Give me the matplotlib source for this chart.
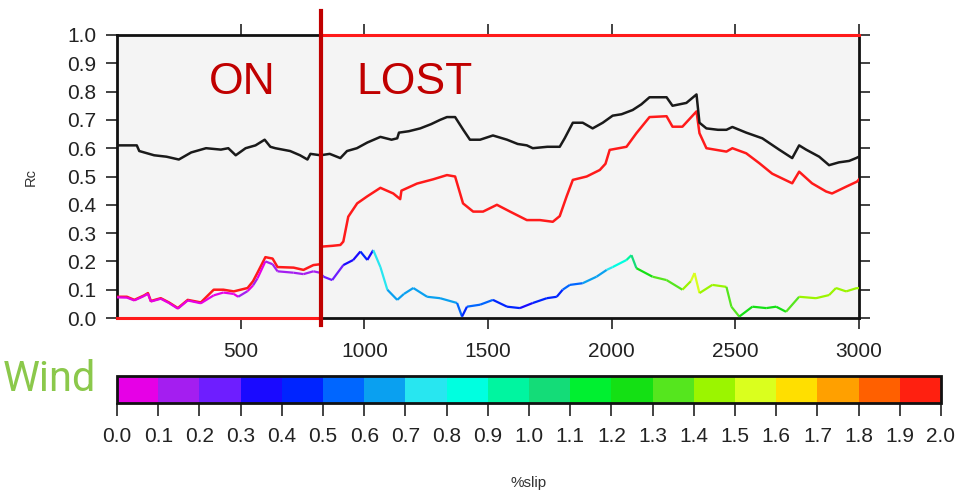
import numpy as np
import matplotlib
matplotlib.use("Agg")
import matplotlib.pyplot as plt
from matplotlib.colors import ListedColormap, BoundaryNorm
from matplotlib.collections import LineCollection
from matplotlib.cm import ScalarMappable

plt.rcParams['font.family'] = ['Liberation Sans', 'DejaVu Sans']

# ---- data ----
black_x = [0, 80, 90, 150, 200, 250, 300, 360, 420, 450, 480, 520, 560, 597, 620, 640, 700, 740, 770, 782,
           823, 860, 903, 930, 970, 1012, 1065, 1110, 1133, 1140, 1180, 1226, 1270, 1306, 1334, 1367, 1400,
           1427, 1468, 1520, 1577, 1620, 1657, 1681, 1740, 1790, 1810, 1843, 1883, 1923, 1964, 2004, 2040,
           2085, 2120, 2153, 2222, 2246, 2302, 2343, 2355, 2383, 2430, 2464, 2488, 2544, 2609, 2677, 2730,
           2758, 2786, 2839, 2879, 2919, 2960, 2988, 3000]
black_y = [0.61, 0.61, 0.59, 0.575, 0.57, 0.56, 0.585, 0.60, 0.595, 0.60, 0.575, 0.60, 0.61, 0.63, 0.605, 0.60,
           0.59, 0.575, 0.56, 0.58, 0.575, 0.58, 0.565, 0.59, 0.60, 0.62, 0.64, 0.63, 0.635, 0.655, 0.66, 0.67,
           0.685, 0.70, 0.71, 0.71, 0.665, 0.63, 0.63, 0.645, 0.63, 0.615, 0.61, 0.60, 0.605, 0.605, 0.635,
           0.69, 0.69, 0.67, 0.69, 0.715, 0.72, 0.735, 0.755, 0.78, 0.78, 0.75, 0.76, 0.79, 0.69, 0.67, 0.665,
           0.665, 0.675, 0.655, 0.635, 0.595, 0.565, 0.61, 0.595, 0.57, 0.54, 0.55, 0.555, 0.565, 0.57]

red_x = [0, 40, 70, 110, 125, 137, 177, 210, 246, 286, 339, 391, 430, 472, 528, 550, 568, 600, 629, 649, 714,
         754, 794, 822, 824, 870, 903, 915, 935, 971, 1012, 1065, 1117, 1145, 1150, 1213, 1278, 1334, 1367,
         1399, 1440, 1480, 1536, 1589, 1657, 1710, 1762, 1790, 1818, 1843, 1899, 1952, 1975, 1992, 2060, 2100,
         2153, 2222, 2246, 2286, 2343, 2355, 2383, 2464, 2488, 2544, 2597, 2649, 2730, 2758, 2810, 2867, 2891,
         2948, 2992, 3000]
red_y = [0.075, 0.075, 0.064, 0.08, 0.088, 0.06, 0.07, 0.055, 0.035, 0.064, 0.055, 0.10, 0.10, 0.094, 0.106,
         0.13, 0.16, 0.215, 0.21, 0.18, 0.178, 0.17, 0.187, 0.19, 0.252, 0.255, 0.258, 0.27, 0.358, 0.405,
         0.43, 0.46, 0.44, 0.42, 0.45, 0.475, 0.49, 0.505, 0.50, 0.405, 0.376, 0.376, 0.40, 0.376, 0.346,
         0.346, 0.34, 0.36, 0.43, 0.488, 0.50, 0.523, 0.545, 0.594, 0.605, 0.653, 0.71, 0.713, 0.676, 0.676,
         0.73, 0.653, 0.60, 0.588, 0.60, 0.582, 0.547, 0.51, 0.476, 0.517, 0.476, 0.447, 0.44, 0.464, 0.482,
         0.49]

wind_x = [0, 40, 70, 110, 125, 137, 177, 210, 246, 286, 339, 391, 430, 472, 490, 528, 550, 568, 600, 629, 649,
          714, 754, 794, 820, 835, 870, 915, 955, 984, 1012, 1036, 1065, 1093, 1133, 1160, 1198, 1254, 1306,
          1375, 1395, 1415, 1468, 1520, 1577, 1629, 1681, 1738, 1778, 1802, 1831, 1883, 1939, 1980, 2004,
          2060, 2080, 2100, 2165, 2222, 2286, 2320, 2335, 2355, 2407, 2464, 2484, 2516, 2569, 2625, 2665,
          2705, 2758, 2826, 2879, 2907, 2948, 2992, 3000]
wind_y = [0.073, 0.072, 0.062, 0.078, 0.086, 0.058, 0.068, 0.053, 0.033, 0.062, 0.052, 0.08, 0.09, 0.085,
          0.075, 0.095, 0.115, 0.14, 0.20, 0.19, 0.165, 0.16, 0.155, 0.165, 0.16, 0.146, 0.134, 0.187, 0.205,
          0.235, 0.205, 0.24, 0.18, 0.10, 0.064, 0.085, 0.106, 0.075, 0.07, 0.053, 0.005, 0.04, 0.047, 0.064,
          0.04, 0.035, 0.053, 0.07, 0.075, 0.10, 0.117, 0.123, 0.146, 0.17, 0.18, 0.205, 0.222, 0.176, 0.146,
          0.134, 0.10, 0.13, 0.159, 0.088, 0.117, 0.11, 0.04, 0.005, 0.04, 0.035, 0.04, 0.022, 0.075, 0.07,
          0.081, 0.106, 0.094, 0.106, 0.105]
wind_slip = [0.05, 0.05, 0.05, 0.05, 0.05, 0.05, 0.05, 0.05, 0.05, 0.05, 0.05, 0.05, 0.05, 0.08, 0.12, 0.08,
             0.12, 0.08, 0.12, 0.15, 0.15, 0.12, 0.15, 0.15, 0.25, 0.25, 0.25, 0.35, 0.35, 0.45, 0.35, 0.75,
             0.75, 0.65, 0.65, 0.65, 0.65, 0.65, 0.65, 0.55, 0.45, 0.55, 0.55, 0.45, 0.45, 0.35, 0.45, 0.45,
             0.45, 0.55, 0.55, 0.65, 0.65, 0.75, 0.85, 0.95, 1.05, 1.25, 1.35, 1.35, 1.45, 1.55, 1.55, 1.45,
             1.45, 1.35, 1.35, 1.25, 1.25, 1.25, 1.25, 1.35, 1.45, 1.45, 1.45, 1.45, 1.45, 1.45, 1.45]

slip_colors = ['#E600E6', '#A41EF0', '#6E1EFF', '#1A0AFF', '#0024FF', '#0066FF', '#0AA0F0', '#28E6F0',
               '#00FFE0', '#00F5A0', '#14DC78', '#00F030', '#14E014', '#55E61E', '#9BF500', '#DAFF1E',
               '#FFDF00', '#FFA000', '#FF6000', '#FF2010']
slip_bounds = [round(0.1 * i, 1) for i in range(21)]

onset_x = 823
x_ticks = [500, 1000, 1500, 2000, 2500, 3000]
y_ticks = [round(0.1 * i, 1) for i in range(11)]

# ---- figure ----
fig = plt.figure(figsize=(9.59, 4.91), dpi=100)
ax = fig.add_axes([117 / 959, 1 - 318 / 491, 742 / 959, 283 / 491])
ax.set_facecolor('#F4F4F4')

cmap = ListedColormap(slip_colors)
norm = BoundaryNorm(slip_bounds, cmap.N)

ax.plot(red_x, red_y, color='#FF1A1A', lw=1.8, zorder=3)
pts = np.column_stack([wind_x, wind_y])
segs = np.stack([pts[:-1], pts[1:]], axis=1)
lc = LineCollection(segs, colors=cmap(norm(np.array(wind_slip[:-1]))), linewidths=1.6, zorder=4)
ax.add_collection(lc)
ax.plot(black_x, black_y, color='#1A1A1A', lw=1.8, zorder=5)

# red markers on frame and onset line
ax.plot([0, onset_x], [0, 0], color='#FF1A1A', lw=2.2, clip_on=False, zorder=6)
ax.plot([onset_x, 3000], [1, 1], color='#FF1A1A', lw=2.2, clip_on=False, zorder=6)
ax.plot([onset_x, onset_x], [-0.025, 1.085], color='#C00000', lw=3.0, clip_on=False, zorder=7)

ax.text(372, 0.79, 'ON', color='#C00000', fontsize=32, va='baseline', ha='left',
        family=['Liberation Sans'])
ax.text(966, 0.79, 'LOST', color='#C00000', fontsize=32, va='baseline', ha='left',
        family=['Liberation Sans'])

ax.set_xlim(0, 3000)
ax.set_ylim(0, 1)
ax.set_xticks(x_ticks)
ax.set_yticks(y_ticks)
ax.set_yticklabels([f'{v:.1f}' for v in y_ticks])
ax.tick_params(axis='both', direction='out', length=8, width=1.2, colors='#222222',
               labelsize=15, top=True, right=True, pad=7)
ax.tick_params(axis='x', labeltop=False, pad=9)
for s in ax.spines.values():
    s.set_linewidth(2.0)
    s.set_color('#111111')
ax.set_ylabel('Rc', fontsize=10.5, color='#333333', labelpad=21)

# colorbar
cax = fig.add_axes([117 / 959, 1 - 403 / 491, 824 / 959, 27 / 491])
cb = fig.colorbar(ScalarMappable(norm=norm, cmap=cmap), cax=cax, orientation='horizontal',
                  ticks=slip_bounds)
cb.ax.set_xticklabels([f'{v:.1f}' for v in slip_bounds])
cb.outline.set_linewidth(2.0)
cb.outline.set_edgecolor('#111111')
cax.tick_params(direction='out', length=9, width=1.2, colors='#222222', labelsize=15, pad=8)
cax.set_xlabel('%slip', fontsize=11, color='#333333', labelpad=22)

fig.text(3 / 959, 1 - 391 / 491, 'Wind', color='#8BC84B', fontsize=30, ha='left', va='baseline',
         family=['Roboto', 'DejaVu Sans'])

fig.savefig('out.png', dpi=100)
